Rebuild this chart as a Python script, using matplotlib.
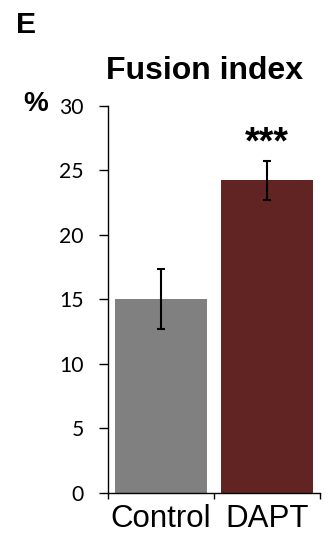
import numpy as np
import matplotlib.pyplot as plt

# fusion index, control vs DAPT
groupes = ["Control", "DAPT"]
valeurs = [15.0, 24.2]
erreurs = [2.3, 1.5]
couleurs = ["#808080", "#622423"]
yticks = [0, 5, 10, 15, 20, 25, 30]

fig = plt.figure(figsize=(3.31, 5.35), dpi=100)
ax = fig.add_axes([108/331, 42.3/535, 212/331, 387.2/535])

x = np.arange(len(groupes))
ax.bar(x, valeurs, width=0.874, color=couleurs, zorder=1)
ax.errorbar(x, valeurs, yerr=erreurs, fmt="none", ecolor="black",
            elinewidth=1.5, capsize=3, capthick=1.5, zorder=2)

ax.set_xlim(-0.5, 1.5)
ax.set_ylim(0, 30)
ax.set_yticks(yticks)
ax.set_yticklabels([str(t) for t in yticks], family="Lato", fontsize=15.2)

# ticks aux limites des barres, etiquettes centrees
ax.set_xticks([-0.5, 0.5, 1.5])
ax.set_xticklabels([])
ax.set_xticks(x, minor=True)
ax.set_xticklabels(groupes, minor=True, family="Liberation Sans", fontsize=22.5)
ax.tick_params(axis="x", which="major", length=4.5, width=1, direction="out")
ax.tick_params(axis="x", which="minor", length=0, pad=8)
ax.tick_params(axis="y", length=6.5, width=1, direction="out", pad=11)

for s in ["top", "right"]:
    ax.spines[s].set_visible(False)
for s in ["left", "bottom"]:
    ax.spines[s].set_linewidth(1)

# significativite
ax.text(1, 26.3, "***", ha="center", va="baseline",
        family="Liberation Sans", fontweight="bold", fontsize=27)

fig.text(204.5/331, 1 - 79/535, "Fusion index", ha="center", va="baseline",
         family="Liberation Sans", fontweight="bold", fontsize=23)
fig.text(16/331, 1 - 33.3/535, "E", ha="left", va="baseline",
         family="Liberation Sans", fontweight="bold", fontsize=21.7)
fig.text(23/331, 1 - 110.7/535, "%", ha="left", va="baseline",
         family="Liberation Sans", fontweight="bold", fontsize=20)

fig.savefig("out.png", dpi=100)
